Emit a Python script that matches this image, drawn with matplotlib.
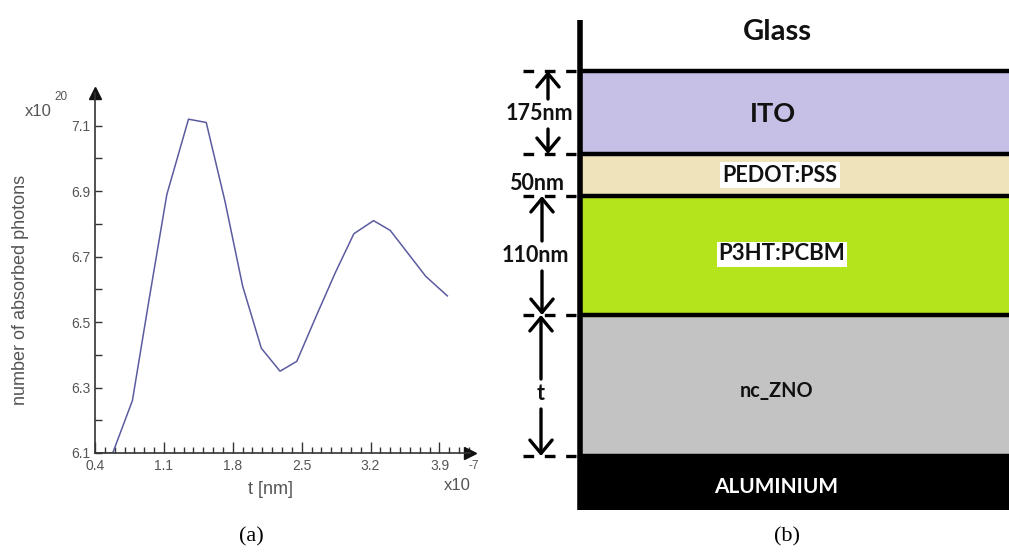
import numpy as np
import matplotlib.pyplot as plt
from matplotlib.ticker import MultipleLocator, FixedLocator

# (a) absorbed photons versus ZnO thickness (x in units of 1e-7, y in units of 1e20)
t_vals = [0.40, 0.58, 0.78, 0.95, 1.13, 1.35, 1.53, 1.72, 1.90, 2.09,
          2.28, 2.45, 2.65, 2.84, 3.03, 3.23, 3.40, 3.58, 3.76, 3.98]
photons = [6.10, 6.10, 6.26, 6.57, 6.89, 7.12, 7.11, 6.87, 6.61, 6.42,
           6.35, 6.38, 6.52, 6.65, 6.77, 6.81, 6.78, 6.71, 6.64, 6.58]
x_ticks = [0.4, 1.1, 1.8, 2.5, 3.2, 3.9]
y_ticks = [6.1, 6.3, 6.5, 6.7, 6.9, 7.1]
y_minor = [6.2, 6.4, 6.6, 6.8, 7.0]

# (b) device stack
layer_names = ["ITO", "PEDOT:PSS", "P3HT:PCBM", "nc_ZNO", "ALUMINIUM"]
layer_colors = ["#c6bfe6", "#eee3b9", "#b4e51c", "#c3c3c3", "#000000"]
layer_bounds = [71, 154, 196, 315, 456, 510]   # positions in the sketch (px)
thick_labels = ["175nm", "50nm", "110nm", "t"]

fig = plt.figure(figsize=(10.09, 5.56), dpi=100)
W, H = 1009, 556
grey = "#555555"

# ---------------- panel (a) ----------------
ax1 = fig.add_axes([95 / W, 1 - 453 / H, 375 / W, 360 / H])
ax1.plot(t_vals, photons, color="#5b5b9f", lw=1.1)
ax1.set_xlim(0.4, 4.21)
ax1.set_ylim(6.1, 7.2)
ax1.xaxis.set_minor_locator(MultipleLocator(0.1))
ax1.yaxis.set_minor_locator(FixedLocator(y_minor))
for s in ["top", "right"]:
    ax1.spines[s].set_visible(False)
for s in ["left", "bottom"]:
    ax1.spines[s].set_color("#333333")
    ax1.spines[s].set_linewidth(1.2)
ax1.tick_params(axis="x", which="major", direction="in", length=8, width=1,
                color="#333333", pad=4)
ax1.tick_params(axis="x", which="minor", direction="in", length=4, width=1,
                color="#333333")
ax1.tick_params(axis="y", which="both", direction="in", length=5, width=1,
                color="#333333", pad=3)
tick_font = dict(fontsize=10, color=grey, family="Liberation Sans")
ax1.set_xticks(x_ticks)
ax1.set_xticklabels([f"{v:.1f}" for v in x_ticks], **tick_font)
ax1.set_yticks(y_ticks)
ax1.set_yticklabels([f"{v:.1f}" for v in y_ticks], **tick_font)
# axis arrows
ax1.plot(1, 0, ">", color="#111111", ms=8, transform=ax1.transAxes, clip_on=False)
ax1.plot(0, 1, "^", color="#111111", ms=8, transform=ax1.transAxes, clip_on=False)

fig.text(21 / W, 1 - 290 / H, "number of absorbed photons", rotation=90,
         ha="center", va="center", fontsize=13, color=grey, family="Liberation Sans")
fig.text(270 / W, 1 - 489 / H, "t [nm]", ha="center", va="center",
         fontsize=13, color=grey, family="Liberation Sans")
fig.text(38 / W, 1 - 112 / H, "x10", ha="center", va="center",
         fontsize=12, color=grey, family="Liberation Sans")
fig.text(61 / W, 1 - 97 / H, "20", ha="center", va="center",
         fontsize=8.5, color=grey, family="Liberation Sans")
fig.text(457 / W, 1 - 485 / H, "x10", ha="center", va="center",
         fontsize=12, color=grey, family="Liberation Sans")
fig.text(474 / W, 1 - 466 / H, "-7", ha="center", va="center",
         fontsize=8.5, color=grey, family="Liberation Sans")

# ---------------- panel (b) ----------------
ax2 = fig.add_axes([480 / W, 0, 529 / W, 1])
ax2.set_xlim(480, 1009)
ax2.set_ylim(556, 0)
ax2.set_axis_off()

x_left, x_right = 580, 1009
for i, name in enumerate(layer_names):
    ax2.fill_between([x_left, x_right], layer_bounds[i], layer_bounds[i + 1],
                     color=layer_colors[i], lw=0)
for yb in layer_bounds[:-1]:
    ax2.plot([x_left, x_right], [yb, yb], color="black", lw=3.2, solid_capstyle="butt")
ax2.plot([x_left, x_left], [20, layer_bounds[-1]], color="black", lw=4,
         solid_capstyle="butt")

font_b = dict(family="Lato", fontweight="bold", ha="center", va="center")
ax2.text(777, 32, "Glass", fontsize=21, color="#111111", **font_b)
layer_text_pos = [(773, 114), (780, 175), (782, 254), (777, 391), (776, 487)]
layer_text_size = [19.5, 15.5, 16, 14.3, 15]
for i, name in enumerate(layer_names):
    x, y = layer_text_pos[i]
    color = "white" if layer_colors[i] == "#000000" else "#111111"
    box = None
    if name in ("PEDOT:PSS", "P3HT:PCBM"):
        box = dict(facecolor="white", edgecolor="none", pad=1.5)
    ax2.text(x, y, name, fontsize=layer_text_size[i], color=color, bbox=box, **font_b)

# dashed markers at the interfaces
for yb in layer_bounds[:-1]:
    ax2.plot([523, 576], [yb, yb], color="black", lw=2.4,
             linestyle=(0, (3.2, 3.2)), dash_capstyle="butt")

arrow = dict(arrowstyle="->,head_length=0.6,head_width=0.5", lw=2.4,
             color="black", shrinkA=0, shrinkB=0, mutation_scale=16)


def dim_arrow(x, y_top, y_bot, label, y_lab, x_lab):
    ax2.annotate("", xy=(x, y_top), xytext=(x, y_lab - 15), arrowprops=arrow)
    ax2.annotate("", xy=(x, y_bot), xytext=(x, y_lab + 15), arrowprops=arrow)
    ax2.text(x_lab, y_lab, label, fontsize=15.5, color="#111111", **font_b)


dim_arrow(548, layer_bounds[0], layer_bounds[1], thick_labels[0], 114, 539)
ax2.text(537, 183, thick_labels[1], fontsize=15.5, color="#111111", **font_b)
dim_arrow(542, layer_bounds[2], layer_bounds[3], thick_labels[2], 256, 535)
dim_arrow(541, layer_bounds[3], layer_bounds[4], thick_labels[3], 394, 541)

# sub-figure captions
fig.text(251 / W, 1 - 537 / H, "(a)", ha="center", va="center",
         fontsize=16, family="Liberation Serif")
fig.text(787 / W, 1 - 537 / H, "(b)", ha="center", va="center",
         fontsize=16, family="Liberation Serif")

fig.savefig("out.png", dpi=100)
